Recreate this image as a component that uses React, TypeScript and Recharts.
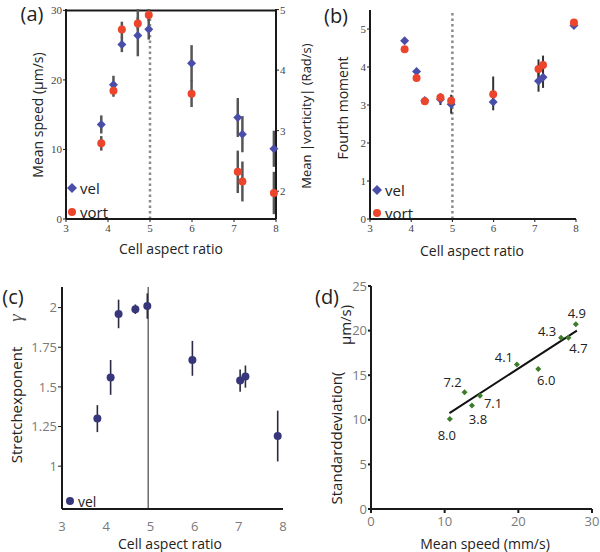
import React from "react";
import {
  ScatterChart,
  Scatter,
  XAxis,
  YAxis,
  ErrorBar,
  ReferenceLine,
} from "recharts";

// cell aspect ratio of each condition (panels a, b)
const aspectRatio = [3.84, 4.13, 4.33, 4.71, 4.97, 5.99, 7.09, 7.2, 7.95];

// (a) mean speed (um/s) and mean |vorticity| (rad/s)
const meanSpeed = [13.6, 19.3, 25.1, 26.4, 27.3, 22.4, 14.6, 12.2, 10.1];
const meanSpeedErr = [[1.3, 1.3], [1.3, 1.3], [1.1, 1.1], [3.0, 3.8], [1.5, 2.7], [2.6, 2.6], [2.8, 2.8], [2.6, 2.6], [2.6, 2.6]];
const meanVort = [2.79, 3.66, 4.67, 4.77, 4.91, 3.61, 2.32, 2.16, 1.97];
const meanVortErr = [[0.12, 0.12], [0.1, 0.1], [0.13, 0.13], [0.1, 0.1], [0.1, 0.1], [0.22, 0.22], [0.35, 0.35], [0.33, 0.33], [0.35, 0.35]];

// (b) fourth moment
const fourthVel = [4.69, 3.88, 3.12, 3.15, 3.02, 3.08, 3.63, 3.73, 5.09];
const fourthVelErr = [[0, 0], [0, 0], [0, 0], [0.15, 0.15], [0.25, 0.25], [0.1, 0.1], [0.28, 0.28], [0.28, 0.28], [0, 0]];
const fourthVort = [4.47, 3.71, 3.1, 3.2, 3.11, 3.28, 3.95, 4.05, 5.17];
const fourthVortErr = [[0, 0], [0, 0], [0, 0], [0.1, 0.1], [0.1, 0.1], [0.42, 0.47], [0.25, 0.25], [0.25, 0.25], [0, 0]];

// (c) stretch exponent
const stretchRatio = [3.8, 4.1, 4.28, 4.66, 4.93, 5.95, 7.03, 7.15, 7.88];
const stretchExp = [1.3, 1.56, 1.96, 1.99, 2.01, 1.67, 1.54, 1.565, 1.19];
const stretchErr = [[0.085, 0.085], [0.11, 0.11], [0.09, 0.09], [0.03, 0.03], [0.08, 0.08], [0.1, 0.12], [0.07, 0.07], [0.07, 0.07], [0.16, 0.16]];

// (d) std deviation vs mean speed, labelled by aspect ratio
const speedMean = [10.7, 12.7, 13.7, 14.8, 19.8, 22.7, 25.8, 26.8, 27.8];
const speedStd = [10.1, 13.1, 11.6, 12.7, 16.2, 15.7, 19.2, 19.2, 20.7];
const ratioLabels = ["8.0", "7.2", "3.8", "7.1", "4.1", "6.0", "4.3", "4.7", "4.9"];
const fitLine = [
  { x: 10.65, y: 10.75 },
  { x: 27.95, y: 20.0 },
];

// label nudges (px) for panel d
const labelNudge: Record<string, [number, number]> = {
  "8.0": [-3, 16],
  "7.2": [-12, -10],
  "3.8": [6, 13],
  "7.1": [13, 7],
  "4.1": [-13, -7],
  "6.0": [8, 11],
  "4.3": [-14, -7],
  "4.7": [10, 10],
  "4.9": [1, -11],
};

const BLUE = "#4b4ea8";
const RED = "#ec452c";
const NAVY = "#37367a";
const GREEN = "#3d7c2b";
const AXIS = "#1a1a1a";

const speedData = aspectRatio.map((x, i) => ({ x, v: meanSpeed[i], e: meanSpeedErr[i] }));
const vortData = aspectRatio.map((x, i) => ({ x, v: meanVort[i], e: meanVortErr[i] }));
const fourthVelData = aspectRatio.map((x, i) => ({ x, v: fourthVel[i], e: fourthVelErr[i] }));
const fourthVortData = aspectRatio.map((x, i) => ({ x, v: fourthVort[i], e: fourthVortErr[i] }));
const stretchData = stretchRatio.map((x, i) => ({ x, v: stretchExp[i], e: stretchErr[i] }));
const stdData = speedMean.map((x, i) => ({ x, v: speedStd[i], label: ratioLabels[i] }));

const Diamond = ({ cx, cy, fill, r = 5 }: any) => (
  <polygon
    points={`${cx},${cy - r} ${cx + r},${cy} ${cx},${cy + r} ${cx - r},${cy}`}
    fill={fill}
  />
);

const Dot = ({ cx, cy, fill, r = 4 }: any) => <circle cx={cx} cy={cy} r={r} fill={fill} />;

const LabelledDiamond = (p: any) => {
  const [dx, dy] = labelNudge[p.payload.label] || [0, 0];
  return (
    <g>
      <Diamond cx={p.cx} cy={p.cy} r={3} fill={GREEN} />
      <text
        x={p.cx + dx}
        y={p.cy + dy}
        textAnchor="middle"
        dominantBaseline="central"
        fontSize={13}
        fontFamily="Open Sans"
        fill="#222"
      >
        {p.payload.label}
      </text>
    </g>
  );
};

const serifTick = { fontSize: 11, fill: "#444", fontFamily: "Liberation Serif" };
const sansTick = { fontSize: 13, fill: "#7a7a7a", fontFamily: "Open Sans" };
const axisLine = { stroke: AXIS, strokeWidth: 2 };

const Txt = ({ x, y, rot, size = 14, children, style }: any) => (
  <div
    style={{
      position: "absolute",
      left: x,
      top: y,
      transform: `translate(-50%, -50%)${rot ? " rotate(-90deg)" : ""}`,
      fontSize: size,
      lineHeight: 1.2,
      whiteSpace: "nowrap",
      color: "#222",
      ...style,
    }}
  >
    {children}
  </div>
);

const LegendItem = ({ x, y, kind, color, text, size = 15 }: any) => (
  <div style={{ position: "absolute", left: x - 6, top: y - 10, height: 20, display: "flex", alignItems: "center" }}>
    <svg width={12} height={12}>
      {kind === "diamond" ? <Diamond cx={6} cy={6} r={5} fill={color} /> : <Dot cx={6} cy={6} r={4} fill={color} />}
    </svg>
    <span style={{ fontSize: size, marginLeft: 2, color: "#222" }}>{text}</span>
  </div>
);

const Panel = ({ left, top, children }: any) => (
  <div style={{ position: "absolute", left, top }}>{children}</div>
);

export default function App() {
  return (
    <div
      style={{
        position: "absolute",
        left: 0,
        top: 0,
        width: 600,
        height: 552,
        background: "#fff",
        fontFamily: "Open Sans",
        overflow: "hidden",
      }}
    >
      {/* (a) */}
      <Panel left={0} top={0}>
        <ScatterChart width={320} height={260} margin={{ top: 9, right: 0, bottom: 0, left: 0 }}>
          <XAxis type="number" dataKey="x" domain={[3, 8]} ticks={[3, 4, 5, 6, 7, 8]} height={41} tickSize={3} tick={serifTick} axisLine={axisLine} tickLine={{ stroke: AXIS }} />
          <YAxis yAxisId="left" type="number" domain={[0, 30]} ticks={[0, 10, 20, 30]} width={66} tickSize={3} tickMargin={1} tick={serifTick} axisLine={axisLine} tickLine={{ stroke: AXIS }} />
          <YAxis yAxisId="right" orientation="right" type="number" domain={[1.54, 5]} ticks={[2, 3, 4, 5]} width={44} tickSize={3} tickMargin={1} tick={serifTick} axisLine={axisLine} tickLine={{ stroke: AXIS }} />
          <ReferenceLine yAxisId="left" y={30} stroke={AXIS} strokeWidth={2} />
          <ReferenceLine yAxisId="left" x={5} stroke="#8a8a8a" strokeWidth={2.5} strokeDasharray="2.5 3" />
          <Scatter yAxisId="left" data={speedData} dataKey="v" fill={BLUE} shape={(p: any) => <Diamond {...p} r={4.5} />} isAnimationActive={false}>
            <ErrorBar dataKey="e" direction="y" width={0} stroke="#555" strokeWidth={2.5} />
          </Scatter>
          <Scatter yAxisId="right" data={vortData} dataKey="v" fill={RED} shape={(p: any) => <Dot {...p} />} isAnimationActive={false}>
            <ErrorBar dataKey="e" direction="y" width={0} stroke="#555" strokeWidth={2.5} />
          </Scatter>
        </ScatterChart>
      </Panel>

      {/* (b) */}
      <Panel left={300} top={0}>
        <ScatterChart width={290} height={260} margin={{ top: 10, right: 14, bottom: 0, left: 0 }}>
          <XAxis type="number" dataKey="x" domain={[3, 8]} ticks={[3, 4, 5, 6, 7, 8]} height={41} tickSize={3} tick={serifTick} axisLine={axisLine} tickLine={{ stroke: AXIS }} />
          <YAxis type="number" domain={[0, 5.5]} ticks={[0, 1, 2, 3, 4, 5]} width={70} tickSize={3} tickMargin={1} tick={serifTick} axisLine={axisLine} tickLine={{ stroke: AXIS }} />
          <ReferenceLine x={5} stroke="#8a8a8a" strokeWidth={2.5} strokeDasharray="2.5 3" />
          <Scatter data={fourthVelData} dataKey="v" fill={BLUE} shape={(p: any) => <Diamond {...p} r={4.5} />} isAnimationActive={false}>
            <ErrorBar dataKey="e" direction="y" width={0} stroke="#333" strokeWidth={2} />
          </Scatter>
          <Scatter data={fourthVortData} dataKey="v" fill={RED} shape={(p: any) => <Dot {...p} />} isAnimationActive={false}>
            <ErrorBar dataKey="e" direction="y" width={0} stroke="#333" strokeWidth={2} />
          </Scatter>
        </ScatterChart>
      </Panel>

      {/* (c) */}
      <Panel left={0} top={272}>
        <ScatterChart width={300} height={280} margin={{ top: 15, right: 17, bottom: 0, left: 0 }}>
          <XAxis type="number" dataKey="x" domain={[3, 8]} ticks={[3, 4, 5, 6, 7, 8]} height={43} tickLine={false} tickMargin={7} tick={sansTick} axisLine={axisLine} />
          <YAxis type="number" domain={[0.73, 2.13]} ticks={[1, 1.25, 1.5, 1.75, 2]} width={62} tickSize={4} tickMargin={1} tick={sansTick} axisLine={axisLine} tickLine={{ stroke: AXIS }} />
          <ReferenceLine x={4.95} stroke="#555" strokeWidth={1.3} />
          <Scatter data={stretchData} dataKey="v" fill={NAVY} shape={(p: any) => <Dot {...p} r={4} />} isAnimationActive={false}>
            <ErrorBar dataKey="e" direction="y" width={0} stroke="#2a2a40" strokeWidth={1.6} />
          </Scatter>
        </ScatterChart>
      </Panel>

      {/* (d) */}
      <Panel left={300} top={272}>
        <ScatterChart width={300} height={280} margin={{ top: 14, right: 8, bottom: 0, left: 0 }}>
          <XAxis type="number" dataKey="x" domain={[0, 30]} ticks={[0, 10, 20, 30]} height={43} tickSize={4} tickMargin={4} tick={sansTick} axisLine={axisLine} tickLine={{ stroke: AXIS, strokeWidth: 2 }} />
          <YAxis type="number" domain={[0, 25]} ticks={[0, 5, 10, 15, 20, 25]} width={71} tickSize={3} tickMargin={1} tick={sansTick} axisLine={axisLine} tickLine={{ stroke: AXIS, strokeWidth: 2 }} />
          <ReferenceLine segment={fitLine} stroke="#111" strokeWidth={2} />
          <Scatter data={stdData} dataKey="v" fill={GREEN} shape={(p: any) => <LabelledDiamond {...p} />} isAnimationActive={false} />
        </ScatterChart>
      </Panel>

      {/* panel letters */}
      <Txt x={32} y={14} size={20}>(a)</Txt>
      <Txt x={336} y={16} size={20}>(b)</Txt>
      <Txt x={13} y={297} size={20}>(c)</Txt>
      <Txt x={327} y={297} size={20}>(d)</Txt>

      {/* axis titles */}
      <Txt x={38} y={115} rot size={14}>Mean speed (μm/s)</Txt>
      <Txt x={171} y={249} size={14}>Cell aspect ratio</Txt>
      <Txt x={307} y={116} rot size={13}>Mean |vorticity| (Rad/s)</Txt>
      <Txt x={343} y={108} rot size={14}>Fourth moment</Txt>
      <Txt x={472} y={251} size={14}>Cell aspect ratio</Txt>
      <Txt x={16} y={405} rot size={15}>Stretchexponent</Txt>
      <Txt x={16} y={318} rot size={19} style={{ fontFamily: "Liberation Serif", fontStyle: "italic", color: "#555" }}>γ</Txt>
      <Txt x={170} y={544} size={14}>Cell aspect ratio</Txt>
      <Txt x={485} y={544} size={14}>Mean speed (mm/s)</Txt>
      <Txt x={336} y={438} rot size={15}>Standarddeviation(</Txt>
      <Txt x={345} y={325} rot size={15}>μm/s)</Txt>

      {/* legends */}
      <LegendItem x={72} y={188} kind="diamond" color={BLUE} text="vel" />
      <LegendItem x={72} y={212} kind="dot" color={RED} text="vort" />
      <LegendItem x={377} y={190} kind="diamond" color={BLUE} text="vel" />
      <LegendItem x={377} y={213} kind="dot" color={RED} text="vort" />
      <LegendItem x={70} y={501} kind="dot" color={NAVY} text="vel" size={14} />
    </div>
  );
}
